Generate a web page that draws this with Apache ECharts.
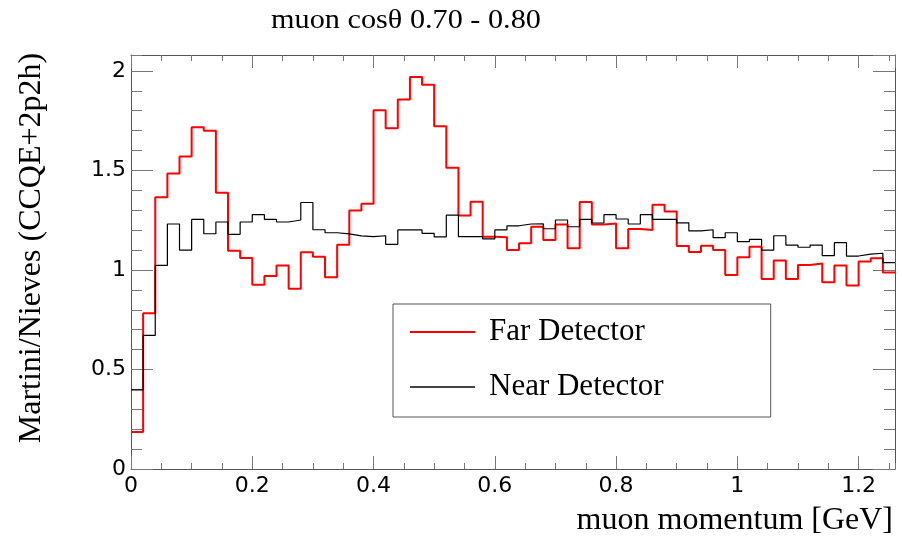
<!DOCTYPE html>
<html>
<head>
<meta charset="utf-8">
<script src="https://cdn.jsdelivr.net/npm/echarts@6/dist/echarts.min.js"></script>
<style>html,body{margin:0;padding:0;background:#fff}#c{width:902px;height:537px}</style>
</head>
<body>
<div id="c"></div>
<script>
// Bin low edges (GeV) plus the final upper edge
const binEdges = [0,0.02,0.04,0.06,0.08,0.10,0.12,0.14,0.16,0.18,0.20,0.22,0.24,0.26,0.28,0.30,0.32,0.34,0.36,0.38,
  0.40,0.42,0.44,0.46,0.48,0.50,0.52,0.54,0.56,0.58,0.60,0.62,0.64,0.66,0.68,0.70,0.72,0.74,0.76,0.78,
  0.80,0.82,0.84,0.86,0.88,0.90,0.92,0.94,0.96,0.98,1.00,1.02,1.04,1.06,1.08,1.10,1.12,1.14,1.16,1.18,
  1.20,1.22,1.24,1.26];
const farDetector = [0.186,0.783,1.365,1.485,1.570,1.717,1.699,1.388,1.097,1.060,0.926,0.970,1.023,0.906,1.089,1.067,
  0.963,1.127,1.299,1.333,1.803,1.712,1.856,1.970,1.931,1.722,1.513,1.274,1.343,1.167,1.164,1.100,
  1.134,1.217,1.151,1.229,1.109,1.341,1.229,1.234,1.109,1.206,1.201,1.328,1.294,1.120,1.090,1.122,
  1.100,0.975,1.064,1.117,0.955,1.047,0.955,1.025,1.033,0.938,1.022,0.922,1.042,1.059,0.987];
const nearDetector = [0.398,0.671,1.023,1.231,1.100,1.254,1.182,1.241,1.179,1.241,1.278,1.254,1.241,1.251,1.339,1.202,
  1.187,1.181,1.171,1.167,1.172,1.129,1.201,1.201,1.184,1.166,1.276,1.167,1.167,1.156,1.201,1.222,
  1.231,1.232,1.207,1.251,1.217,1.254,1.236,1.278,1.256,1.231,1.278,1.254,1.254,1.237,1.196,1.202,
  1.162,1.187,1.142,1.154,1.100,1.172,1.125,1.114,1.125,1.072,1.137,1.070,1.080,1.084,1.037];
const seriesNames = ['Far Detector','Near Detector'];
const titleText = 'muon cos\u03B8 0.70 - 0.80';
const xTitle = 'muon momentum [GeV]';
const yTitle = 'Martini/Nieves (CCQE+2p2h)';

function stepData(vals){
  const d = vals.map((v,i)=>[binEdges[i], v]);
  d.push([binEdges[vals.length], vals[vals.length-1]]);
  return d;
}
const frameColor = '#555';
const tickColor = '#777';
const xMin = 0, xMax = 1.26, yMin = 0, yMax = 2.08;
function xAx(pos, interval, len, labels, line){
  return {type:'value', position:pos, min:xMin, max:xMax, interval:interval,
    axisLine:{show:line, onZero:false, lineStyle:{color:frameColor,width:1}},
    axisTick:{show:true, inside:true, length:len, lineStyle:{color:tickColor,width:1}},
    axisLabel:{show:labels, margin:6, fontFamily:'DejaVu Sans', fontSize:22, color:'#000', showMaxLabel:false},
    splitLine:{show:false}};
}
function yAx(pos, interval, len, labels, line){
  return {type:'value', position:pos, min:yMin, max:yMax, interval:interval,
    axisLine:{show:line, onZero:false, lineStyle:{color:frameColor,width:1}},
    axisTick:{show:true, inside:true, length:len, lineStyle:{color:tickColor,width:1}},
    axisLabel:{show:labels, margin:5, fontFamily:'DejaVu Sans', fontSize:22, color:'#000', showMaxLabel:false},
    splitLine:{show:false}};
}
const chart = echarts.init(document.getElementById('c'), null, {renderer:'canvas'});
chart.setOption({
  animation:false,
  backgroundColor:'#fff',
  grid:{left:131, right:7, top:55, bottom:68, containLabel:false},
  xAxis:[xAx('bottom',0.2,13,true,true), xAx('bottom',0.05,6,false,false),
         xAx('top',0.2,13,false,true), xAx('top',0.05,6,false,false)],
  yAxis:[yAx('left',0.5,22,true,true), yAx('left',0.1,11,false,false),
         yAx('right',0.5,22,false,true), yAx('right',0.1,11,false,false)],
  legend:{
    orient:'vertical', left:393, top:304, padding:[10,107,12,17],
    itemWidth:65, itemHeight:2, itemGap:19,
    borderColor:'#555', borderWidth:1, backgroundColor:'#fff',
    textStyle:{fontFamily:'Liberation Serif', fontSize:31, lineHeight:32, color:'#000', padding:[4,0,0,9]},
    data:[
      {name:seriesNames[0], icon:'rect', itemStyle:{color:'#ff0000'}},
      {name:seriesNames[1], icon:'rect', itemStyle:{color:'#444'}}
    ]
  },
  series:[
    {name:seriesNames[0], type:'line', step:'end', symbol:'none', showSymbol:false, xAxisIndex:0, yAxisIndex:0,
     lineStyle:{color:'#ff0000', width:2}, itemStyle:{color:'#ff0000'}, data:stepData(farDetector), z:2},
    {name:seriesNames[1], type:'line', step:'end', symbol:'none', showSymbol:false, xAxisIndex:0, yAxisIndex:0,
     lineStyle:{color:'#000', width:1.2}, itemStyle:{color:'#000'}, data:stepData(nearDetector), z:3}
  ],
  graphic:[
    {type:'text', x:406, y:21, scaleX:1.12, style:{text:titleText, font:'27px "Liberation Serif"', fill:'#000', align:'center', verticalAlign:'middle'}},
    {type:'text', x:32, y:248, rotation:Math.PI/2, style:{text:yTitle, font:'32px "Liberation Serif"', fill:'#000', align:'center', verticalAlign:'middle'}},
    {type:'text', x:893, y:521, style:{text:xTitle, font:'32px "Liberation Serif"', fill:'#000', align:'right', verticalAlign:'middle'}}
  ]
});
</script>
</body>
</html>
